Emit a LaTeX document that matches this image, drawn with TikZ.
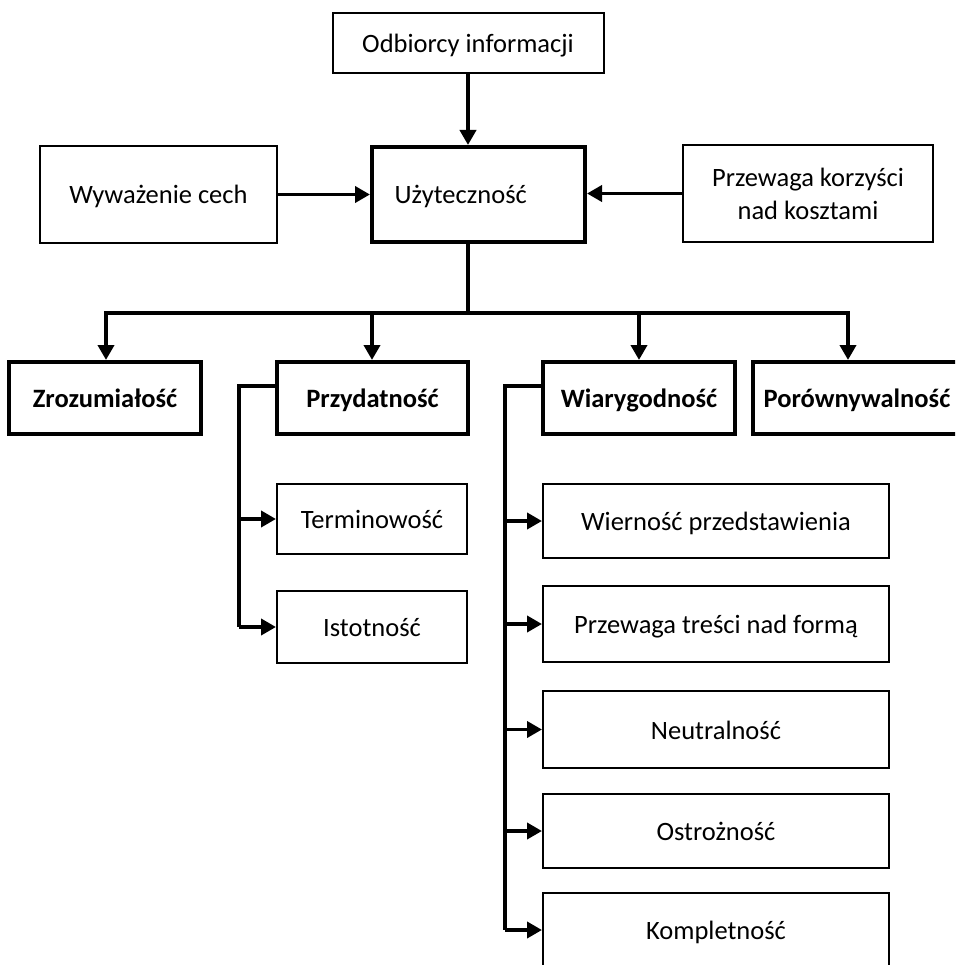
\documentclass[tikz,border=0pt]{standalone}
\usepackage{fontspec}
\setmainfont{Carlito}
\usetikzlibrary{arrows.meta}
\tikzset{
  box/.style={draw, rectangle, inner sep=0pt, line width=2pt, align=center, text height=21pt, text depth=2pt, font=\fontsize{26.5}{33}\selectfont},
  boldbox/.style={box, line width=4pt, font=\fontsize{26.5}{33}\selectfont\bfseries},
  conn/.style={line width=3.8pt, -{Triangle[length=15pt,width=16pt]}},
  plain/.style={line width=3.8pt}
}
\begin{document}
\begin{tikzpicture}[x=1pt,y=-1pt]
\useasboundingbox (0,0) rectangle (955,965);
\clip (0,0) rectangle (955,965);
% top level
\node[box, minimum width=271pt, minimum height=60pt] (odb) at (468,43) {Odbiorcy informacji};
\node[box, line width=4pt, minimum width=213pt, minimum height=95pt, text width=168pt, align=left] (uzy) at (478.5,194.5) {Użyteczność};
\node[box, minimum width=237pt, minimum height=97pt] (wyw) at (158.5,194.5) {Wyważenie cech};
\node[box, text height=, text depth=, minimum width=250pt, minimum height=97pt] (pko) at (808,193.5) {Przewaga korzyści\\nad kosztami};
% second level
\node[boldbox, minimum width=192pt, minimum height=72pt] (zro) at (105,398) {Zrozumiałość};
\node[boldbox, minimum width=191pt, minimum height=72pt] (pzd) at (372.5,398) {Przydatność};
\node[boldbox, minimum width=192pt, minimum height=72pt] (wia) at (639,398) {Wiarygodność};
\node[boldbox, minimum width=208pt, minimum height=72pt] (por) at (857,398) {Porównywalność};
% Przydatność children
\node[box, minimum width=190pt, minimum height=70pt] (ter) at (372,519) {Terminowość};
\node[box, minimum width=190pt, minimum height=72pt] (ist) at (372,627) {Istotność};
% Wiarygodność children
\node[box, minimum width=346pt, minimum height=74pt] (wie) at (716,521) {Wierność przedstawienia};
\node[box, minimum width=346pt, minimum height=76pt] (ptf) at (716,624) {Przewaga treści nad formą};
\node[box, minimum width=346pt, minimum height=77pt] (neu) at (716,729.5) {Neutralność};
\node[box, minimum width=346pt, minimum height=74pt] (ost) at (716,831) {Ostrożność};
\node[box, minimum width=346pt, minimum height=74pt] (kom) at (716,930) {Kompletność};
% connectors top
\draw[conn] (odb.south) -- (odb.south |- uzy.north);
\draw[conn] (wyw.east) -- (uzy.west |- wyw.east);
\draw[conn] (pko.west) -- (uzy.east |- pko.west);
% bus
\coordinate (bus) at (468,313);
\coordinate (busL) at (106,313);
\coordinate (busR) at (848,313);
\draw[plain] (odb.south |- uzy.south) -- (bus);
\draw[plain, line cap=rect] (busL) -- (busR);
\draw[conn] (busL) -- (busL |- zro.north);
\draw[conn] (372,313) -- (372,313 |- pzd.north);
\draw[conn] (639,313) -- (639,313 |- wia.north);
\draw[conn] (busR) -- (busR |- por.north);
% Przydatność spine
\coordinate (ps) at (239,386);
\draw[plain, line join=miter] (pzd.west |- ps) -- (ps) -- (ps |- ist.west);
\draw[conn] (ps |- ter.west) -- (ter.west);
\draw[conn] (ps |- ist.west) -- (ist.west);
% Wiarygodność spine
\coordinate (ws) at (505,386);
\draw[plain, line join=miter] (wia.west |- ws) -- (ws) -- (ws |- kom.west);
\draw[conn] (ws |- wie.west) -- (wie.west);
\draw[conn] (ws |- ptf.west) -- (ptf.west);
\draw[conn] (ws |- neu.west) -- (neu.west);
\draw[conn] (ws |- ost.west) -- (ost.west);
\draw[conn] (ws |- kom.west) -- (kom.west);
\end{tikzpicture}
\end{document}
